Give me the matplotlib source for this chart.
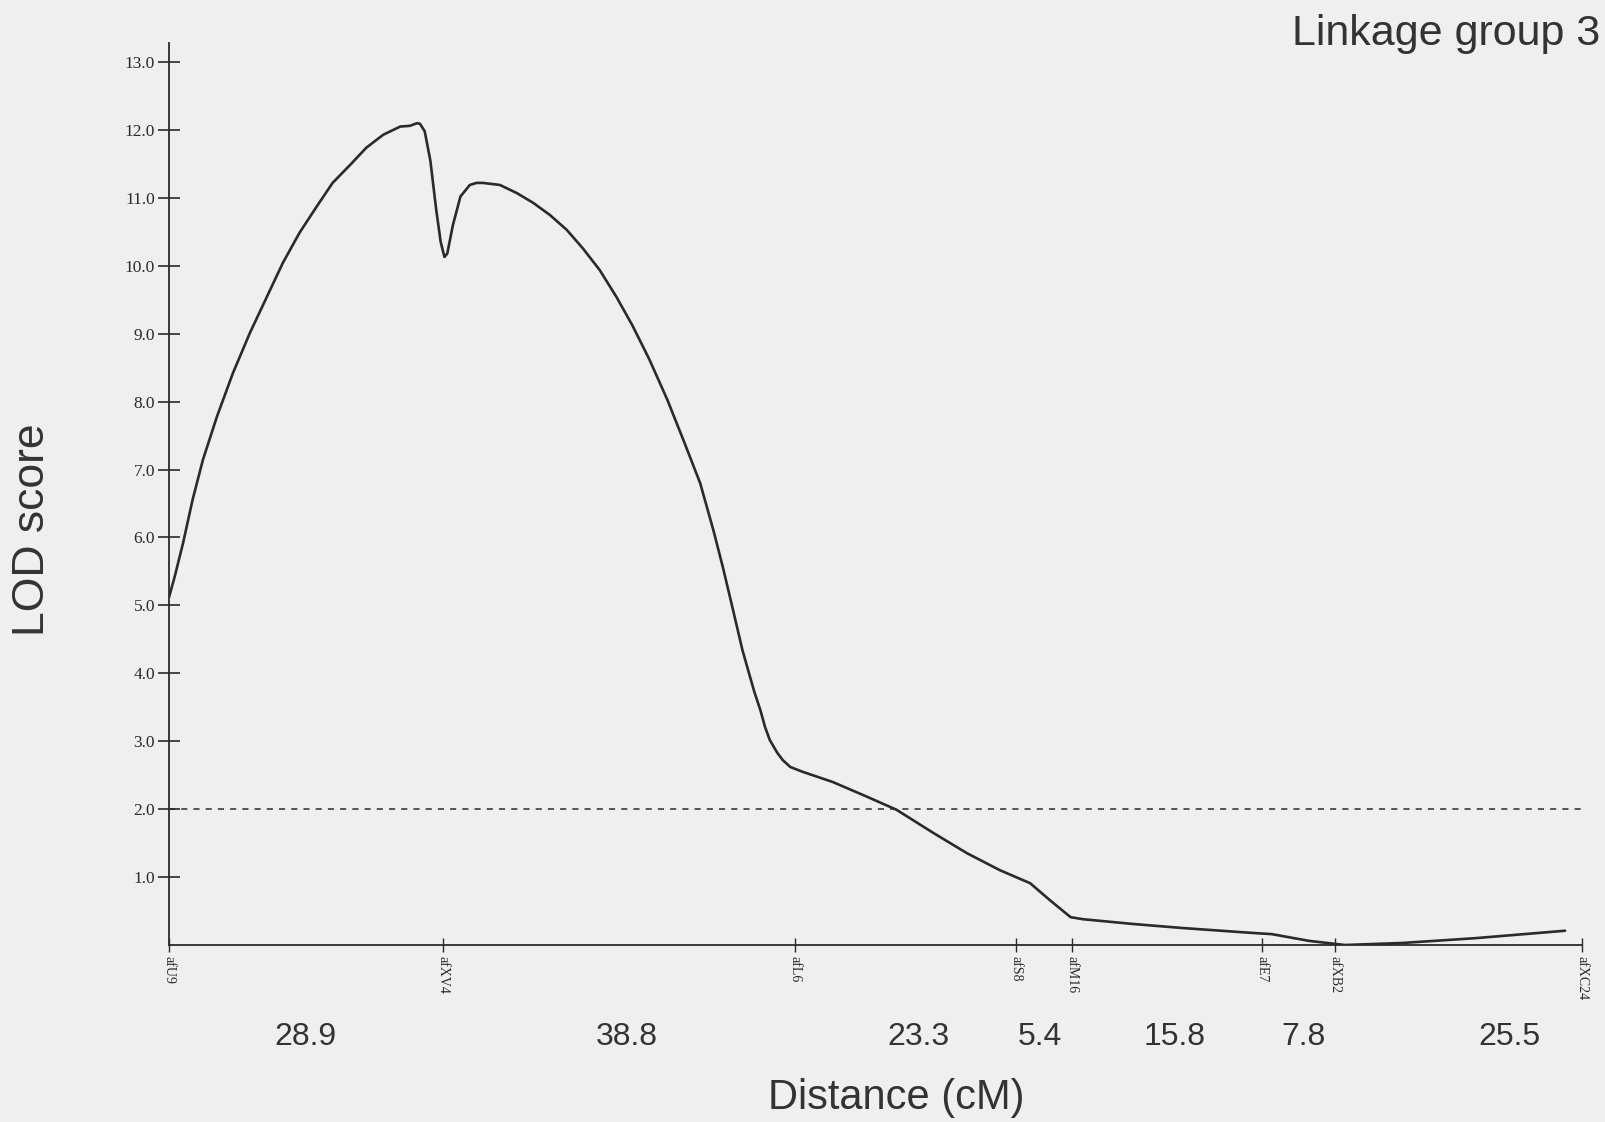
import matplotlib.pyplot as plt
import matplotlib.transforms as mtransforms

# marker map (x in plot units)
markers = ["afU9", "afXV4", "afL6", "afS8", "afM16", "afE7", "afXB2", "afXC24"]
marker_pos = [0.0, 29.1, 66.6, 90.1, 96.0, 116.3, 124.0, 150.3]
distances = ["28.9", "38.8", "23.3", "5.4", "15.8", "7.8", "25.5"]
dist_x = [14.5, 48.7, 79.7, 92.6, 107.0, 120.7, 142.6]

# LOD profile
pos = [0.0, 0.6, 1.5, 2.5, 3.6, 5.1, 6.8, 8.6, 10.4, 12.1, 13.9, 15.7,
       17.4, 19.3, 21.0, 22.8, 24.6, 25.6, 26.4, 26.7, 27.2, 27.8, 28.4,
       28.9, 29.3, 29.6, 30.2, 31.0, 32.0, 32.7, 33.4, 35.2, 37.0, 38.7,
       40.5, 42.3, 44.0, 45.8, 47.6, 49.3, 51.1, 53.0, 54.7, 56.5, 57.9,
       58.9, 60.0, 61.0, 61.8, 62.3, 62.9, 63.4, 63.9, 64.7, 65.3, 66.1,
       67.4, 70.6, 74.3, 77.4, 81.3, 84.9, 88.4, 91.6, 93.7, 95.9, 97.2,
       102.5, 107.8, 115.0, 117.3, 121.3, 125.1, 131.2, 138.9, 148.5]
lod = [5.12, 5.42, 5.92, 6.55, 7.14, 7.78, 8.42, 9.01, 9.54, 10.04, 10.49,
       10.87, 11.22, 11.49, 11.74, 11.93, 12.05, 12.06, 12.10, 12.09, 11.98,
       11.55, 10.85, 10.35, 10.13, 10.18, 10.60, 11.02, 11.19, 11.22, 11.22,
       11.19, 11.07, 10.93, 10.75, 10.53, 10.26, 9.94, 9.54, 9.12, 8.62,
       8.03, 7.44, 6.80, 6.11, 5.57, 4.93, 4.34, 3.95, 3.71, 3.46, 3.21,
       3.02, 2.83, 2.72, 2.62, 2.55, 2.40, 2.18, 1.99, 1.65, 1.35, 1.10,
       0.91, 0.66, 0.41, 0.38, 0.31, 0.25, 0.18, 0.16, 0.06, 0.0, 0.03,
       0.10, 0.21]
yticks = [1.0, 2.0, 3.0, 4.0, 5.0, 6.0, 7.0, 8.0, 9.0, 10.0, 11.0, 12.0, 13.0]
threshold = 2.0

bg = "#efefef"
ink = "#2a2a2a"

fig = plt.figure(figsize=(16.06, 11.22), dpi=100, facecolor=bg)
ax = fig.add_axes([169 / 1606, 1 - 945 / 1122, (1582 - 169) / 1606, (945 - 43) / 1122])
ax.set_facecolor(bg)

ax.plot(pos, lod, color=ink, lw=1.9, solid_joinstyle="round", solid_capstyle="round")
ax.axhline(threshold, color=ink, lw=1.1, dashes=(4, 4))

ax.set_xlim(marker_pos[0], marker_pos[-1])
ax.set_ylim(0, 13.28)

for s in ["top", "right"]:
    ax.spines[s].set_visible(False)
for s in ["left", "bottom"]:
    ax.spines[s].set_color(ink)
    ax.spines[s].set_linewidth(1.3)

ax.set_yticks(yticks)
ax.set_yticklabels([f"{v:.1f}" for v in yticks], family="Liberation Serif", fontsize=12.5, color=ink)
ax.tick_params(axis="y", direction="inout", length=16, width=1.2, color=ink, pad=2)

ax.set_xticks(marker_pos)
ax.set_xticklabels([])
ax.tick_params(axis="x", direction="inout", length=10, width=1.0, color=ink)

trans = mtransforms.blended_transform_factory(ax.transData, ax.transAxes)
for m, x in zip(markers, marker_pos):
    ax.text(x, -0.012, m, transform=trans, rotation=-90, ha="center", va="top",
            family="Liberation Serif", fontsize=10, color=ink)

for d, x in zip(distances, dist_x):
    ax.text(x, -0.102, d, transform=trans, ha="center", va="center",
            family="Liberation Sans", fontsize=23, color="#333333")

fig.text(1600 / 1606, 1 - 34 / 1122, "Linkage group 3", ha="right", va="center",
         family="Liberation Sans", fontsize=31, color="#333333")
fig.text(33 / 1606, 1 - 530 / 1122, "LOD score", rotation=90, ha="center", va="center",
         family="Liberation Sans", fontsize=32, color="#333333")
fig.text(896 / 1606, 1 - 1098 / 1122, "Distance (cM)", ha="center", va="center",
         family="Liberation Sans", fontsize=30, color="#333333")

fig.savefig("out.png", dpi=100, facecolor=bg)
